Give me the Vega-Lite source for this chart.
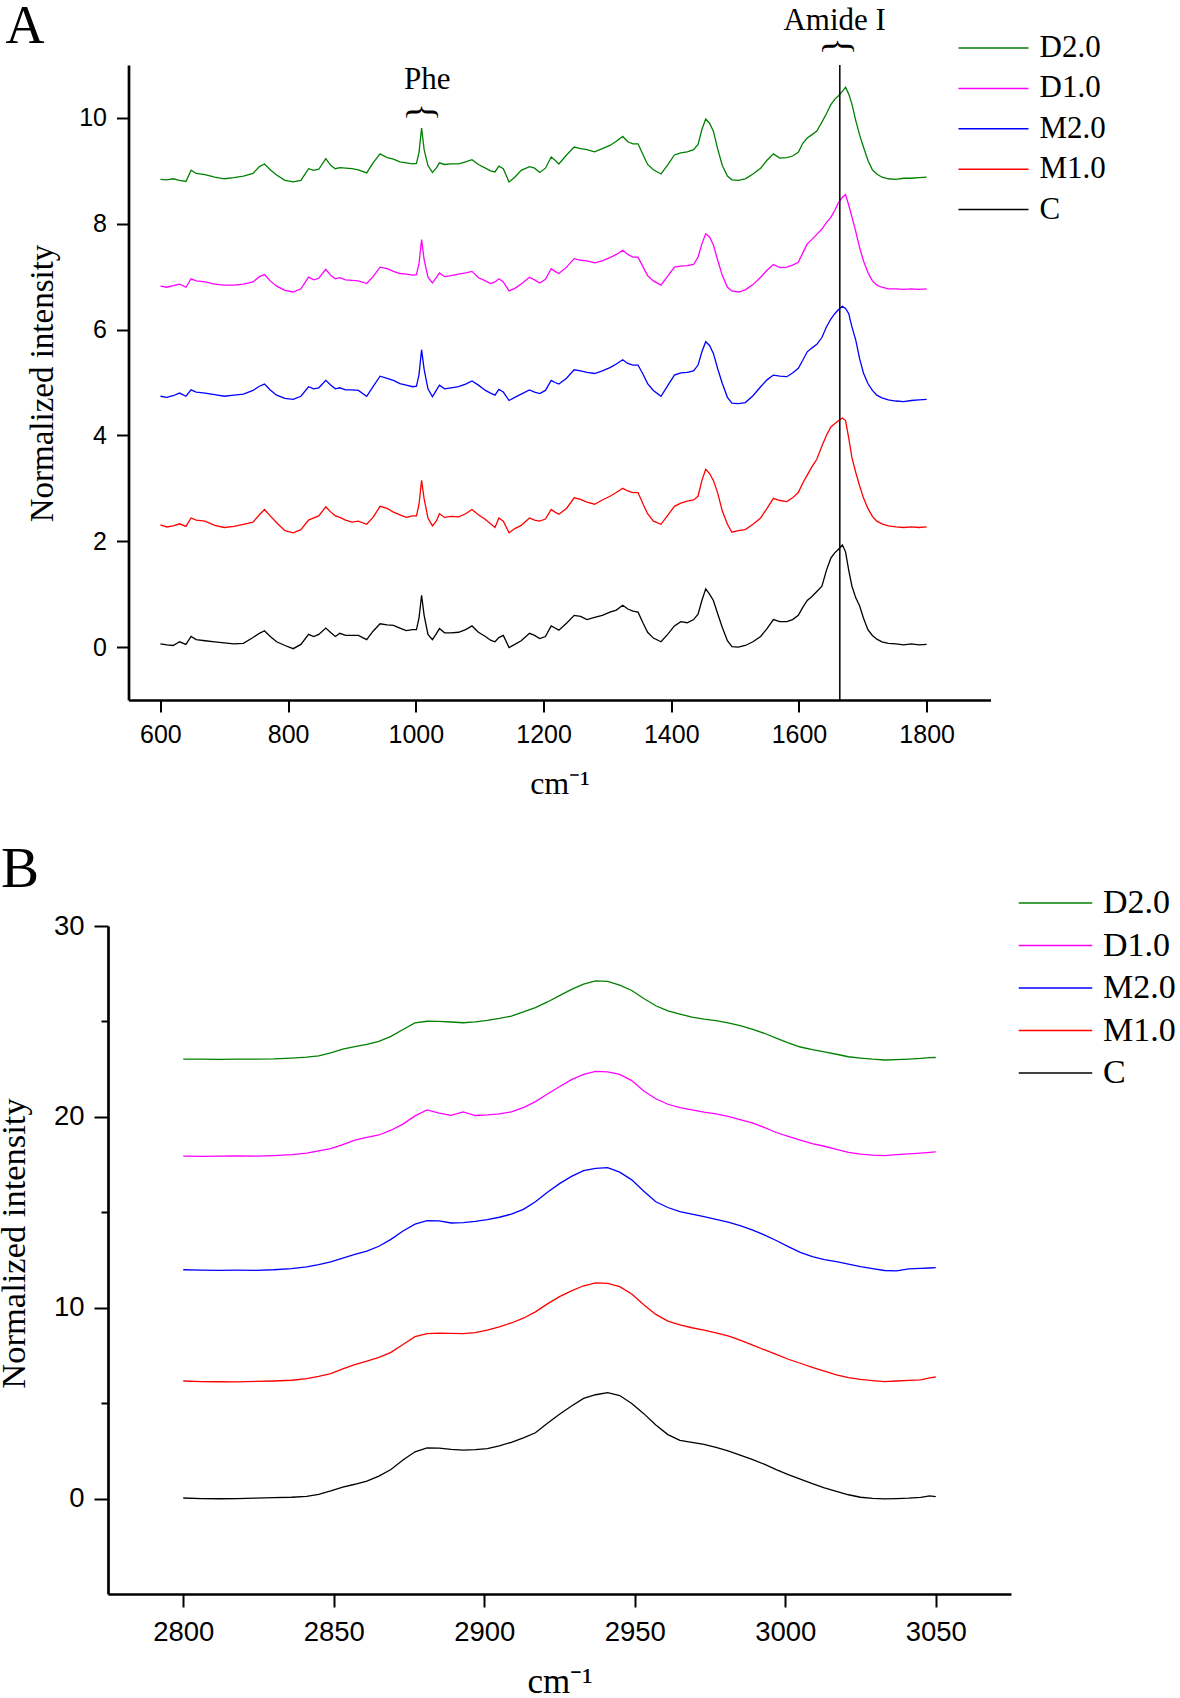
{
  "$schema": "https://vega.github.io/schema/vega-lite/v6.json",
  "background": "white",
  "padding": {"left": -4, "top": -1, "right": 0, "bottom": 0},
  "config": {
    "view": {"stroke": null},
    "axis": {"grid": false, "domainColor": "black", "domainWidth": 2.7, "tickColor": "black", "tickWidth": 2, "tickSize": 12, "labelColor": "black", "labelFont": "Liberation Sans", "titleFont": "Liberation Serif", "titleFontWeight": "normal", "titleColor": "black", "labelPadding": 10, "labelFlush": false, "labelOverlap": false},
    "legend": {"padding": 0, "title": null, "symbolType": "stroke", "labelFont": "Liberation Serif", "labelColor": "black", "labelOffset": 10, "labelBaseline": "middle"}
  },
  "vconcat": [
    {
      "width": 862,
      "height": 635,
      "title": {"text": "A", "anchor": "start", "frame": "group", "font": "Liberation Serif", "fontSize": 54, "fontWeight": "normal", "color": "black", "dx": -123, "dy": 53},
      "layer": [
        {
          "data": {"values": [
            {"x":600,"C":0.06,"M1":2.31,"M2":4.74,"D1":6.82,"D2":8.84},
            {"x":610,"C":0.04,"M1":2.27,"M2":4.72,"D1":6.80,"D2":8.83},
            {"x":620,"C":0.03,"M1":2.29,"M2":4.75,"D1":6.83,"D2":8.85},
            {"x":630,"C":0.10,"M1":2.33,"M2":4.80,"D1":6.86,"D2":8.82},
            {"x":640,"C":0.05,"M1":2.28,"M2":4.74,"D1":6.80,"D2":8.80},
            {"x":648,"C":0.20,"M1":2.44,"M2":4.86,"D1":6.96,"D2":9.01},
            {"x":656,"C":0.14,"M1":2.40,"M2":4.82,"D1":6.92,"D2":8.95},
            {"x":670,"C":0.12,"M1":2.38,"M2":4.80,"D1":6.90,"D2":8.93},
            {"x":685,"C":0.10,"M1":2.30,"M2":4.77,"D1":6.86,"D2":8.88},
            {"x":700,"C":0.08,"M1":2.26,"M2":4.74,"D1":6.84,"D2":8.85},
            {"x":715,"C":0.06,"M1":2.28,"M2":4.76,"D1":6.84,"D2":8.87},
            {"x":730,"C":0.07,"M1":2.32,"M2":4.78,"D1":6.86,"D2":8.90},
            {"x":745,"C":0.18,"M1":2.36,"M2":4.85,"D1":6.90,"D2":8.95},
            {"x":755,"C":0.26,"M1":2.50,"M2":4.93,"D1":7.00,"D2":9.08},
            {"x":763,"C":0.31,"M1":2.60,"M2":4.97,"D1":7.04,"D2":9.13},
            {"x":772,"C":0.20,"M1":2.48,"M2":4.86,"D1":6.92,"D2":9.02},
            {"x":782,"C":0.10,"M1":2.35,"M2":4.76,"D1":6.82,"D2":8.92},
            {"x":795,"C":0.03,"M1":2.20,"M2":4.70,"D1":6.74,"D2":8.82},
            {"x":808,"C":-0.03,"M1":2.16,"M2":4.68,"D1":6.71,"D2":8.79},
            {"x":820,"C":0.05,"M1":2.22,"M2":4.74,"D1":6.77,"D2":8.82},
            {"x":832,"C":0.24,"M1":2.40,"M2":4.92,"D1":6.99,"D2":9.04},
            {"x":840,"C":0.20,"M1":2.44,"M2":4.88,"D1":6.94,"D2":9.01},
            {"x":848,"C":0.24,"M1":2.48,"M2":4.90,"D1":6.97,"D2":9.03},
            {"x":859,"C":0.36,"M1":2.65,"M2":5.04,"D1":7.14,"D2":9.23},
            {"x":867,"C":0.27,"M1":2.55,"M2":4.95,"D1":7.02,"D2":9.10},
            {"x":874,"C":0.20,"M1":2.48,"M2":4.88,"D1":6.96,"D2":9.04},
            {"x":881,"C":0.26,"M1":2.45,"M2":4.90,"D1":6.98,"D2":9.06},
            {"x":890,"C":0.22,"M1":2.40,"M2":4.86,"D1":6.94,"D2":9.05},
            {"x":900,"C":0.22,"M1":2.36,"M2":4.86,"D1":6.93,"D2":9.04},
            {"x":910,"C":0.22,"M1":2.38,"M2":4.85,"D1":6.92,"D2":9.02},
            {"x":923,"C":0.14,"M1":2.32,"M2":4.74,"D1":6.87,"D2":8.96},
            {"x":933,"C":0.30,"M1":2.45,"M2":4.92,"D1":7.00,"D2":9.15},
            {"x":944,"C":0.44,"M1":2.66,"M2":5.12,"D1":7.18,"D2":9.32},
            {"x":955,"C":0.42,"M1":2.62,"M2":5.08,"D1":7.15,"D2":9.25},
            {"x":965,"C":0.41,"M1":2.55,"M2":5.04,"D1":7.10,"D2":9.22},
            {"x":975,"C":0.36,"M1":2.50,"M2":4.98,"D1":7.06,"D2":9.17},
            {"x":985,"C":0.31,"M1":2.45,"M2":4.95,"D1":7.05,"D2":9.15},
            {"x":995,"C":0.33,"M1":2.48,"M2":4.92,"D1":7.03,"D2":9.13},
            {"x":1001,"C":0.33,"M1":2.48,"M2":4.93,"D1":7.04,"D2":9.14},
            {"x":1005,"C":0.55,"M1":2.70,"M2":5.15,"D1":7.25,"D2":9.35},
            {"x":1009,"C":0.98,"M1":3.15,"M2":5.62,"D1":7.70,"D2":9.81},
            {"x":1013,"C":0.60,"M1":2.80,"M2":5.25,"D1":7.32,"D2":9.40},
            {"x":1019,"C":0.24,"M1":2.44,"M2":4.88,"D1":6.99,"D2":9.10},
            {"x":1026,"C":0.14,"M1":2.29,"M2":4.73,"D1":6.88,"D2":8.97},
            {"x":1032,"C":0.25,"M1":2.38,"M2":4.85,"D1":6.98,"D2":9.05},
            {"x":1037,"C":0.35,"M1":2.52,"M2":4.95,"D1":7.07,"D2":9.15},
            {"x":1045,"C":0.27,"M1":2.45,"M2":4.88,"D1":7.00,"D2":9.12},
            {"x":1055,"C":0.27,"M1":2.47,"M2":4.90,"D1":7.02,"D2":9.13},
            {"x":1067,"C":0.28,"M1":2.46,"M2":4.92,"D1":7.05,"D2":9.13},
            {"x":1078,"C":0.33,"M1":2.52,"M2":4.97,"D1":7.07,"D2":9.17},
            {"x":1088,"C":0.40,"M1":2.60,"M2":5.03,"D1":7.10,"D2":9.21},
            {"x":1098,"C":0.28,"M1":2.50,"M2":4.95,"D1":6.98,"D2":9.12},
            {"x":1109,"C":0.20,"M1":2.41,"M2":4.85,"D1":6.92,"D2":9.05},
            {"x":1117,"C":0.13,"M1":2.33,"M2":4.80,"D1":6.87,"D2":9.00},
            {"x":1124,"C":0.10,"M1":2.26,"M2":4.76,"D1":6.90,"D2":8.98},
            {"x":1130,"C":0.18,"M1":2.44,"M2":4.87,"D1":6.96,"D2":9.09},
            {"x":1137,"C":0.22,"M1":2.38,"M2":4.82,"D1":6.90,"D2":9.04},
            {"x":1146,"C":-0.01,"M1":2.16,"M2":4.66,"D1":6.73,"D2":8.79},
            {"x":1155,"C":0.05,"M1":2.24,"M2":4.72,"D1":6.78,"D2":8.88},
            {"x":1165,"C":0.12,"M1":2.30,"M2":4.78,"D1":6.86,"D2":9.01},
            {"x":1178,"C":0.26,"M1":2.44,"M2":4.86,"D1":6.99,"D2":9.08},
            {"x":1186,"C":0.22,"M1":2.40,"M2":4.82,"D1":6.94,"D2":9.05},
            {"x":1194,"C":0.16,"M1":2.38,"M2":4.79,"D1":6.88,"D2":8.97},
            {"x":1203,"C":0.20,"M1":2.42,"M2":4.85,"D1":6.95,"D2":9.05},
            {"x":1212,"C":0.40,"M1":2.60,"M2":5.04,"D1":7.15,"D2":9.26},
            {"x":1218,"C":0.36,"M1":2.55,"M2":5.00,"D1":7.10,"D2":9.20},
            {"x":1224,"C":0.32,"M1":2.51,"M2":4.97,"D1":7.06,"D2":9.13},
            {"x":1236,"C":0.45,"M1":2.62,"M2":5.08,"D1":7.18,"D2":9.30},
            {"x":1248,"C":0.60,"M1":2.82,"M2":5.24,"D1":7.34,"D2":9.45},
            {"x":1258,"C":0.58,"M1":2.79,"M2":5.22,"D1":7.31,"D2":9.42},
            {"x":1268,"C":0.52,"M1":2.74,"M2":5.19,"D1":7.30,"D2":9.40},
            {"x":1280,"C":0.56,"M1":2.70,"M2":5.17,"D1":7.26,"D2":9.36},
            {"x":1292,"C":0.60,"M1":2.78,"M2":5.22,"D1":7.30,"D2":9.42},
            {"x":1304,"C":0.66,"M1":2.85,"M2":5.28,"D1":7.36,"D2":9.48},
            {"x":1314,"C":0.70,"M1":2.92,"M2":5.35,"D1":7.42,"D2":9.56},
            {"x":1324,"C":0.79,"M1":3.00,"M2":5.43,"D1":7.50,"D2":9.65},
            {"x":1332,"C":0.72,"M1":2.95,"M2":5.36,"D1":7.42,"D2":9.55},
            {"x":1340,"C":0.68,"M1":2.92,"M2":5.33,"D1":7.37,"D2":9.51},
            {"x":1348,"C":0.66,"M1":2.92,"M2":5.33,"D1":7.37,"D2":9.51},
            {"x":1356,"C":0.45,"M1":2.70,"M2":5.15,"D1":7.18,"D2":9.30},
            {"x":1363,"C":0.28,"M1":2.52,"M2":4.98,"D1":7.02,"D2":9.12},
            {"x":1372,"C":0.17,"M1":2.38,"M2":4.85,"D1":6.92,"D2":9.02},
            {"x":1384,"C":0.10,"M1":2.32,"M2":4.74,"D1":6.84,"D2":8.94},
            {"x":1395,"C":0.25,"M1":2.50,"M2":4.95,"D1":7.02,"D2":9.12},
            {"x":1405,"C":0.40,"M1":2.66,"M2":5.14,"D1":7.18,"D2":9.30},
            {"x":1415,"C":0.48,"M1":2.72,"M2":5.18,"D1":7.20,"D2":9.34},
            {"x":1425,"C":0.46,"M1":2.76,"M2":5.19,"D1":7.21,"D2":9.36},
            {"x":1435,"C":0.52,"M1":2.78,"M2":5.22,"D1":7.23,"D2":9.40},
            {"x":1442,"C":0.62,"M1":2.85,"M2":5.33,"D1":7.37,"D2":9.50},
            {"x":1448,"C":0.88,"M1":3.15,"M2":5.58,"D1":7.62,"D2":9.78},
            {"x":1454,"C":1.10,"M1":3.36,"M2":5.77,"D1":7.81,"D2":9.98},
            {"x":1460,"C":1.00,"M1":3.28,"M2":5.70,"D1":7.75,"D2":9.90},
            {"x":1466,"C":0.88,"M1":3.15,"M2":5.55,"D1":7.60,"D2":9.75},
            {"x":1473,"C":0.62,"M1":2.90,"M2":5.25,"D1":7.30,"D2":9.40},
            {"x":1480,"C":0.37,"M1":2.57,"M2":4.98,"D1":7.02,"D2":9.10},
            {"x":1488,"C":0.12,"M1":2.32,"M2":4.72,"D1":6.80,"D2":8.90},
            {"x":1495,"C":0.01,"M1":2.17,"M2":4.61,"D1":6.73,"D2":8.83},
            {"x":1505,"C":0.00,"M1":2.20,"M2":4.60,"D1":6.71,"D2":8.82},
            {"x":1516,"C":0.03,"M1":2.22,"M2":4.62,"D1":6.75,"D2":8.85},
            {"x":1528,"C":0.10,"M1":2.32,"M2":4.75,"D1":6.85,"D2":8.94},
            {"x":1540,"C":0.20,"M1":2.44,"M2":4.92,"D1":6.99,"D2":9.05},
            {"x":1550,"C":0.35,"M1":2.62,"M2":5.05,"D1":7.12,"D2":9.20},
            {"x":1560,"C":0.52,"M1":2.81,"M2":5.14,"D1":7.23,"D2":9.32},
            {"x":1570,"C":0.48,"M1":2.77,"M2":5.12,"D1":7.17,"D2":9.24},
            {"x":1581,"C":0.48,"M1":2.75,"M2":5.11,"D1":7.18,"D2":9.25},
            {"x":1590,"C":0.52,"M1":2.82,"M2":5.18,"D1":7.22,"D2":9.28},
            {"x":1599,"C":0.60,"M1":2.92,"M2":5.27,"D1":7.27,"D2":9.35},
            {"x":1606,"C":0.75,"M1":3.10,"M2":5.42,"D1":7.45,"D2":9.52},
            {"x":1613,"C":0.88,"M1":3.25,"M2":5.58,"D1":7.62,"D2":9.62},
            {"x":1620,"C":0.95,"M1":3.40,"M2":5.65,"D1":7.70,"D2":9.68},
            {"x":1628,"C":1.05,"M1":3.55,"M2":5.72,"D1":7.80,"D2":9.75},
            {"x":1636,"C":1.15,"M1":3.80,"M2":5.85,"D1":7.90,"D2":9.92},
            {"x":1643,"C":1.45,"M1":4.00,"M2":6.05,"D1":8.02,"D2":10.08},
            {"x":1650,"C":1.68,"M1":4.16,"M2":6.20,"D1":8.12,"D2":10.25},
            {"x":1656,"C":1.78,"M1":4.22,"M2":6.30,"D1":8.25,"D2":10.35},
            {"x":1662,"C":1.85,"M1":4.28,"M2":6.38,"D1":8.40,"D2":10.42},
            {"x":1668,"C":1.93,"M1":4.33,"M2":6.44,"D1":8.50,"D2":10.50},
            {"x":1673,"C":1.80,"M1":4.28,"M2":6.40,"D1":8.55,"D2":10.58},
            {"x":1678,"C":1.45,"M1":3.95,"M2":6.30,"D1":8.35,"D2":10.45},
            {"x":1683,"C":1.15,"M1":3.58,"M2":6.05,"D1":8.13,"D2":10.26},
            {"x":1689,"C":0.93,"M1":3.30,"M2":5.80,"D1":7.85,"D2":9.95},
            {"x":1695,"C":0.78,"M1":3.05,"M2":5.45,"D1":7.55,"D2":9.68},
            {"x":1701,"C":0.55,"M1":2.82,"M2":5.18,"D1":7.30,"D2":9.45},
            {"x":1708,"C":0.33,"M1":2.62,"M2":4.98,"D1":7.08,"D2":9.20},
            {"x":1715,"C":0.22,"M1":2.47,"M2":4.85,"D1":6.92,"D2":9.02},
            {"x":1722,"C":0.15,"M1":2.38,"M2":4.76,"D1":6.84,"D2":8.94},
            {"x":1730,"C":0.10,"M1":2.33,"M2":4.71,"D1":6.80,"D2":8.88},
            {"x":1740,"C":0.07,"M1":2.29,"M2":4.67,"D1":6.77,"D2":8.85},
            {"x":1752,"C":0.06,"M1":2.27,"M2":4.65,"D1":6.77,"D2":8.84},
            {"x":1764,"C":0.04,"M1":2.26,"M2":4.64,"D1":6.76,"D2":8.86},
            {"x":1776,"C":0.06,"M1":2.27,"M2":4.66,"D1":6.77,"D2":8.86},
            {"x":1788,"C":0.04,"M1":2.26,"M2":4.67,"D1":6.76,"D2":8.87},
            {"x":1800,"C":0.05,"M1":2.27,"M2":4.68,"D1":6.77,"D2":8.88}
          ]},
          "transform": [{"fold": ["D2", "D1", "M2", "M1", "C"], "as": ["series", "value"]}],
          "mark": {"type": "line", "strokeWidth": 1.3},
          "encoding": {
            "x": {"field": "x", "type": "quantitative", "scale": {"domain": [550, 1900], "nice": false, "zero": false},
                  "axis": {"values": [600, 800, 1000, 1200, 1400, 1600, 1800], "format": "d", "title": "cm⁻¹", "labelFontSize": 25, "titleFontSize": 32, "titleY": 83, "titleBaseline": "middle"}},
            "y": {"field": "value", "type": "quantitative", "scale": {"domain": [-1, 11], "nice": false, "zero": false},
                  "axis": {"values": [0, 2, 4, 6, 8, 10], "title": "Normalized intensity", "labelFontSize": 25, "titleFontSize": 33, "titleX": -86, "titleY": 318, "titleBaseline": "middle", "titleAngle": -90, "titleAlign": "center"}},
            "color": {"field": "series", "type": "nominal",
                      "scale": {"domain": ["D2", "D1", "M2", "M1", "C"], "range": ["#008000", "#ff00ff", "#0000ff", "#ff0000", "#000000"]},
                      "legend": {"orient": "none", "legendX": 829, "legendY": -35, "symbolSize": 4900, "symbolStrokeWidth": 1.5, "labelFontSize": 31, "clipHeight": 36, "rowPadding": 4.4, "labelExpr": "datum.label == 'C' ? 'C' : datum.label + '.0'"}}
          }
        },
        {
          "data": {"values": [{"x": 1664}]},
          "mark": {"type": "rule", "color": "black", "strokeWidth": 1.5},
          "encoding": {"x": {"field": "x", "type": "quantitative"}}
        },
        {
          "data": {"values": [{"label": "Phe", "x": 1018, "value": 10.72}, {"label": "Amide I", "x": 1656, "value": 11.84}]},
          "mark": {"type": "text", "font": "Liberation Serif", "fontSize": 31, "align": "center", "baseline": "middle", "color": "black"},
          "encoding": {"x": {"field": "x", "type": "quantitative"}, "y": {"field": "value", "type": "quantitative"}, "text": {"field": "label"}}
        },
        {
          "data": {"values": [{"x": 1010, "value": 10.11}, {"x": 1661, "value": 11.35}]},
          "mark": {"type": "text", "text": "{", "angle": 90, "font": "Liberation Serif", "fontSize": 38, "align": "center", "baseline": "middle", "color": "black"},
          "encoding": {"x": {"field": "x", "type": "quantitative"}, "y": {"field": "value", "type": "quantitative"}}
        }
      ]
    },
    {
      "width": 903,
      "height": 668,
      "title": {"text": "B", "anchor": "start", "frame": "group", "font": "Liberation Serif", "fontSize": 57, "fontWeight": "normal", "color": "black", "dx": -107, "dy": 19},
      "data": {"values": [
        {"x":2800,"C":0.03,"M1":6.16,"M2":11.99,"D1":17.94,"D2":23.02},
        {"x":2806,"C":0.00,"M1":6.13,"M2":11.97,"D1":17.93,"D2":23.03},
        {"x":2812,"C":-0.01,"M1":6.12,"M2":11.96,"D1":17.94,"D2":23.01},
        {"x":2818,"C":0.00,"M1":6.11,"M2":11.97,"D1":17.95,"D2":23.02},
        {"x":2824,"C":0.02,"M1":6.14,"M2":11.96,"D1":17.94,"D2":23.03},
        {"x":2830,"C":0.05,"M1":6.16,"M2":11.99,"D1":17.97,"D2":23.04},
        {"x":2836,"C":0.07,"M1":6.20,"M2":12.05,"D1":18.02,"D2":23.08},
        {"x":2841,"C":0.12,"M1":6.28,"M2":12.14,"D1":18.10,"D2":23.13},
        {"x":2845,"C":0.22,"M1":6.40,"M2":12.26,"D1":18.22,"D2":23.20},
        {"x":2849,"C":0.40,"M1":6.55,"M2":12.40,"D1":18.33,"D2":23.35},
        {"x":2853,"C":0.60,"M1":6.80,"M2":12.60,"D1":18.55,"D2":23.55},
        {"x":2857,"C":0.75,"M1":7.02,"M2":12.80,"D1":18.78,"D2":23.68},
        {"x":2861,"C":0.92,"M1":7.20,"M2":12.97,"D1":18.92,"D2":23.80},
        {"x":2865,"C":1.18,"M1":7.40,"M2":13.22,"D1":19.05,"D2":23.95},
        {"x":2869,"C":1.52,"M1":7.66,"M2":13.58,"D1":19.30,"D2":24.22},
        {"x":2873,"C":2.02,"M1":8.07,"M2":14.02,"D1":19.62,"D2":24.58},
        {"x":2877,"C":2.45,"M1":8.48,"M2":14.38,"D1":20.05,"D2":24.92},
        {"x":2881,"C":2.66,"M1":8.64,"M2":14.56,"D1":20.36,"D2":25.01},
        {"x":2885,"C":2.64,"M1":8.67,"M2":14.55,"D1":20.20,"D2":25.00},
        {"x":2889,"C":2.58,"M1":8.66,"M2":14.44,"D1":20.08,"D2":24.97},
        {"x":2893,"C":2.54,"M1":8.64,"M2":14.46,"D1":20.26,"D2":24.93},
        {"x":2897,"C":2.56,"M1":8.70,"M2":14.52,"D1":20.07,"D2":24.98},
        {"x":2901,"C":2.62,"M1":8.83,"M2":14.62,"D1":20.10,"D2":25.06},
        {"x":2905,"C":2.76,"M1":9.00,"M2":14.74,"D1":20.16,"D2":25.16},
        {"x":2909,"C":2.95,"M1":9.20,"M2":14.90,"D1":20.26,"D2":25.28},
        {"x":2913,"C":3.18,"M1":9.45,"M2":15.15,"D1":20.48,"D2":25.50},
        {"x":2917,"C":3.45,"M1":9.78,"M2":15.55,"D1":20.80,"D2":25.72},
        {"x":2921,"C":3.95,"M1":10.20,"M2":16.05,"D1":21.20,"D2":26.02},
        {"x":2925,"C":4.42,"M1":10.58,"M2":16.50,"D1":21.58,"D2":26.35},
        {"x":2929,"C":4.85,"M1":10.88,"M2":16.88,"D1":21.95,"D2":26.68},
        {"x":2933,"C":5.25,"M1":11.15,"M2":17.18,"D1":22.22,"D2":26.95},
        {"x":2937,"C":5.44,"M1":11.30,"M2":17.30,"D1":22.38,"D2":27.12},
        {"x":2941,"C":5.55,"M1":11.28,"M2":17.34,"D1":22.36,"D2":27.10},
        {"x":2945,"C":5.40,"M1":11.10,"M2":17.10,"D1":22.22,"D2":26.90},
        {"x":2949,"C":4.98,"M1":10.72,"M2":16.70,"D1":21.90,"D2":26.62},
        {"x":2953,"C":4.45,"M1":10.15,"M2":16.10,"D1":21.35,"D2":26.20},
        {"x":2957,"C":3.85,"M1":9.65,"M2":15.55,"D1":20.95,"D2":25.82},
        {"x":2961,"C":3.35,"M1":9.30,"M2":15.25,"D1":20.66,"D2":25.55},
        {"x":2965,"C":3.05,"M1":9.10,"M2":15.04,"D1":20.48,"D2":25.38},
        {"x":2969,"C":2.95,"M1":8.95,"M2":14.90,"D1":20.36,"D2":25.22},
        {"x":2973,"C":2.84,"M1":8.82,"M2":14.77,"D1":20.25,"D2":25.12},
        {"x":2977,"C":2.68,"M1":8.68,"M2":14.63,"D1":20.16,"D2":25.04},
        {"x":2981,"C":2.50,"M1":8.52,"M2":14.48,"D1":20.02,"D2":24.93},
        {"x":2985,"C":2.28,"M1":8.30,"M2":14.30,"D1":19.86,"D2":24.78},
        {"x":2989,"C":2.05,"M1":8.05,"M2":14.08,"D1":19.68,"D2":24.60},
        {"x":2993,"C":1.80,"M1":7.80,"M2":13.82,"D1":19.45,"D2":24.38},
        {"x":2997,"C":1.52,"M1":7.55,"M2":13.52,"D1":19.18,"D2":24.12},
        {"x":3001,"C":1.26,"M1":7.30,"M2":13.20,"D1":18.98,"D2":23.88},
        {"x":3005,"C":1.02,"M1":7.09,"M2":12.90,"D1":18.78,"D2":23.66},
        {"x":3009,"C":0.78,"M1":6.88,"M2":12.68,"D1":18.60,"D2":23.52},
        {"x":3013,"C":0.56,"M1":6.68,"M2":12.52,"D1":18.46,"D2":23.40},
        {"x":3017,"C":0.38,"M1":6.48,"M2":12.42,"D1":18.30,"D2":23.28},
        {"x":3021,"C":0.20,"M1":6.34,"M2":12.28,"D1":18.14,"D2":23.15},
        {"x":3025,"C":0.07,"M1":6.24,"M2":12.15,"D1":18.05,"D2":23.08},
        {"x":3029,"C":0.01,"M1":6.18,"M2":12.05,"D1":18.00,"D2":23.02},
        {"x":3033,"C":-0.02,"M1":6.13,"M2":11.95,"D1":17.97,"D2":22.98},
        {"x":3037,"C":0.00,"M1":6.16,"M2":11.93,"D1":18.02,"D2":23.00},
        {"x":3041,"C":0.02,"M1":6.19,"M2":12.04,"D1":18.06,"D2":23.03},
        {"x":3045,"C":0.06,"M1":6.22,"M2":12.06,"D1":18.10,"D2":23.06},
        {"x":3048,"C":0.14,"M1":6.32,"M2":12.08,"D1":18.14,"D2":23.10},
        {"x":3050,"C":0.10,"M1":6.37,"M2":12.10,"D1":18.16,"D2":23.11}
      ]},
      "transform": [{"fold": ["D2", "D1", "M2", "M1", "C"], "as": ["series", "value"]}],
      "mark": {"type": "line", "strokeWidth": 1.3},
      "encoding": {
        "x": {"field": "x", "type": "quantitative", "scale": {"domain": [2775, 3075], "nice": false, "zero": false},
              "axis": {"values": [2800, 2850, 2900, 2950, 3000, 3050], "format": "d", "tickSize": 13, "labelPadding": 11, "title": "cm⁻¹", "labelFontSize": 27.5, "titleFontSize": 35, "titleY": 87, "titleBaseline": "middle"}},
        "y": {"field": "value", "type": "quantitative", "scale": {"domain": [-5, 30], "nice": false, "zero": false},
              "axis": {"values": [0, 5, 10, 15, 20, 25, 30], "labelExpr": "datum.value % 10 == 0 ? datum.label : ''", "tickSize": {"condition": {"test": "datum.value % 10 != 0", "value": 7}, "value": 14}, "labelPadding": 10, "title": "Normalized intensity", "labelFontSize": 27.5, "titleFontSize": 34.5, "titleX": -94, "titleY": 317, "titleBaseline": "middle", "titleAngle": -90, "titleAlign": "center"}},
        "color": {"field": "series", "type": "nominal",
                  "scale": {"domain": ["D2", "D1", "M2", "M1", "C"], "range": ["#008000", "#ff00ff", "#0000ff", "#ff0000", "#000000"]},
                  "legend": {"orient": "none", "legendX": 910, "legendY": -42, "symbolSize": 5400, "symbolStrokeWidth": 1.5, "labelFontSize": 34, "clipHeight": 38, "rowPadding": 4.5, "labelExpr": "datum.label == 'C' ? 'C' : datum.label + '.0'"}}
      }
    }
  ],
  "spacing": 226,
  "bounds": "flush",
  "center": true,
  "resolve": {"scale": {"color": "independent"}}
}
